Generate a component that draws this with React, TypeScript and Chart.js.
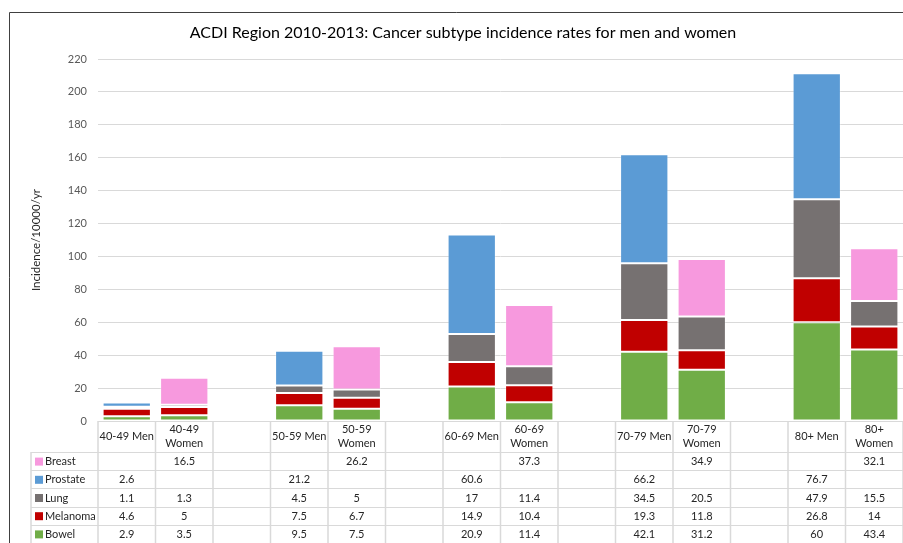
import React, { useEffect, useRef } from 'react';
import { Chart, registerables } from 'chart.js';

Chart.register(...registerables);

const TITLE = 'ACDI Region 2010-2013: Cancer subtype incidence rates for men and women';
const Y_TITLE = 'Incidence/10000/yr';

const categories: string[][] = [
  ['40-49 Men'], ['40-49', 'Women'], [''],
  ['50-59 Men'], ['50-59', 'Women'], [''],
  ['60-69 Men'], ['60-69', 'Women'], [''],
  ['70-79 Men'], ['70-79', 'Women'], [''],
  ['80+ Men'], ['80+', 'Women'],
];

const bowel = [2.9, 3.5, null, 9.5, 7.5, null, 20.9, 11.4, null, 42.1, 31.2, null, 60, 43.4];
const melanoma = [4.6, 5, null, 7.5, 6.7, null, 14.9, 10.4, null, 19.3, 11.8, null, 26.8, 14];
const lung = [1.1, 1.3, null, 4.5, 5, null, 17, 11.4, null, 34.5, 20.5, null, 47.9, 15.5];
const prostate = [2.6, null, null, 21.2, null, null, 60.6, null, null, 66.2, null, null, 76.7, null];
const breast = [null, 16.5, null, null, 26.2, null, null, 37.3, null, null, 34.9, null, null, 32.1];

const seriesNames = ['Bowel', 'Melanoma', 'Lung', 'Prostate', 'Breast'];
const seriesData = [bowel, melanoma, lung, prostate, breast];
const seriesColors = ['#70AD47', '#C00000', '#767171', '#5B9BD5', '#F799DE'];

const yTicksMin = 0;
const yTicksMax = 220;
const yTicksStep = 20;

const FONT = 'Lato, "Open Sans", "Liberation Sans", sans-serif';

const decorPlugin = {
  id: 'decor',
  beforeDraw(chart: any) {
    const ctx = chart.ctx;
    ctx.save();
    ctx.strokeStyle = '#404040';
    ctx.lineWidth = 1;
    ctx.beginPath();
    ctx.moveTo(9.5, 543);
    ctx.lineTo(9.5, 12.5);
    ctx.lineTo(903, 12.5);
    ctx.stroke();
    ctx.fillStyle = '#000000';
    ctx.font = `16px ${FONT}`;
    ctx.textAlign = 'center';
    ctx.textBaseline = 'middle';
    ctx.fillText(TITLE, 463, 33);
    ctx.restore();
  },
  afterDraw(chart: any) {
    const ctx = chart.ctx;
    const xs = chart.scales.x;
    const area = chart.chartArea;
    const n = categories.length;
    const colW = (xs.right - xs.left) / n;
    const top = area.bottom;
    const headerH = 31;
    const rowH = 18.2;
    const legendLeft = 31;
    const right = xs.right;
    const rows = seriesNames.length;
    ctx.save();
    ctx.strokeStyle = '#d9d9d9';
    ctx.lineWidth = 1;
    ctx.beginPath();
    ctx.moveTo(xs.left, Math.round(top) + 0.5);
    ctx.lineTo(right, Math.round(top) + 0.5);
    for (let r = 0; r <= rows; r++) {
      const y = Math.round(top + headerH + r * rowH) + 0.5;
      ctx.moveTo(legendLeft, y);
      ctx.lineTo(right, y);
    }
    ctx.stroke();
    ctx.lineWidth = 1.5;
    ctx.beginPath();
    for (let c = 0; c <= n; c++) {
      const x = xs.left + c * colW;
      ctx.moveTo(x, top);
      ctx.lineTo(x, top + headerH + rows * rowH);
    }
    ctx.moveTo(legendLeft, top + headerH);
    ctx.lineTo(legendLeft, top + headerH + rows * rowH);
    ctx.stroke();

    ctx.fillStyle = '#262626';
    ctx.font = `11px ${FONT}`;
    ctx.textAlign = 'center';
    ctx.textBaseline = 'middle';
    for (let c = 0; c < n; c++) {
      const cx = xs.getPixelForValue(c);
      const lines = categories[c];
      const cy = top + headerH / 2;
      lines.forEach((l, i) => {
        const y = cy + (i - (lines.length - 1) / 2) * 14;
        ctx.fillText(l, cx, y);
      });
    }
    for (let r = 0; r < rows; r++) {
      const si = rows - 1 - r;
      const cy = top + headerH + r * rowH + rowH / 2 + 0.5;
      ctx.fillStyle = seriesColors[si];
      ctx.fillRect(35, cy - 4, 8, 8);
      ctx.fillStyle = '#262626';
      ctx.textAlign = 'left';
      ctx.fillText(seriesNames[si], 45, cy);
      ctx.textAlign = 'center';
      const data = seriesData[si];
      for (let c = 0; c < n; c++) {
        const v = data[c];
        if (v === null || v === undefined) continue;
        ctx.fillText(String(v), xs.getPixelForValue(c), cy);
      }
    }
    ctx.restore();
  },
};

export default function App() {
  const ref = useRef<HTMLCanvasElement>(null);
  useEffect(() => {
    if (!ref.current) return;
    const chart = new Chart(ref.current, {
      type: 'bar',
      data: {
        labels: categories.map((c) => c.join(' ')),
        datasets: seriesNames.map((name, i) => ({
          label: name,
          data: seriesData[i] as any,
          backgroundColor: seriesColors[i],
          borderColor: 'rgba(255,255,255,0.3)',
          borderWidth: 1,
          borderSkipped: false,
          categoryPercentage: 1,
          barPercentage: 0.84,
        })),
      },
      options: {
        responsive: false,
        animation: false,
        layout: { padding: { left: 10, top: 59, right: 0, bottom: 122 } },
        plugins: {
          legend: { display: false },
          title: { display: false },
          tooltip: { enabled: false },
        },
        scales: {
          x: { display: false, stacked: true },
          y: {
            stacked: true,
            min: yTicksMin,
            max: yTicksMax,
            ticks: { stepSize: yTicksStep, color: '#595959', padding: 11, font: { family: FONT, size: 11 } },
            grid: { color: '#d9d9d9', drawTicks: false },
            border: { display: false },
            title: {
              display: true,
              text: Y_TITLE,
              color: '#262626',
              font: { family: FONT, size: 11.5 },
              padding: { top: 19, bottom: 0 },
            },
            afterFit: (scale: any) => {
              scale.width = 88;
            },
          },
        },
      },
      plugins: [decorPlugin],
    });
    return () => chart.destroy();
  }, []);
  return (
    <div style={{ position: 'absolute', left: 0, top: 0, width: 903, height: 543, background: '#fff' }}>
      <canvas ref={ref} width={903} height={543} style={{ display: 'block' }} />
    </div>
  );
}
